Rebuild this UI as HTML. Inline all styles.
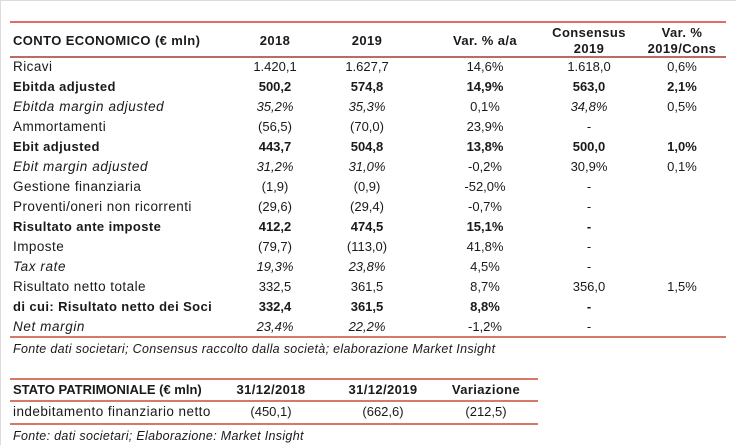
<!DOCTYPE html>
<html><head><meta charset="utf-8">
<style>
*{margin:0;padding:0;box-sizing:border-box}
html,body{width:736px;height:445px;background:#fff;overflow:hidden}
body{position:relative;font-family:"Liberation Sans",sans-serif;color:#1a1a1a;border-top:1px solid #dcdcdc;border-left:1px solid #dcdcdc}
.ln{position:absolute;height:2px}
.r{position:absolute;left:0;width:736px;height:20px;line-height:20px;font-size:13.5px;letter-spacing:0.45px}
.r span{position:absolute;top:0;white-space:nowrap}
.l{left:12px}
.l.i{letter-spacing:0.6px}
.c{width:100px;text-align:center;font-size:13px;letter-spacing:0}
.b{font-weight:bold;font-size:13px;letter-spacing:0.4px}
.i{font-style:italic}
.h{position:absolute;font-weight:bold;font-size:13px;letter-spacing:0.4px;white-space:nowrap;text-align:center;line-height:16px}
.f{position:absolute;left:12px;font-style:italic;font-size:12.5px;white-space:nowrap;letter-spacing:0.32px}
</style></head><body>
<div class="ln" style="left:9px;top:20px;width:716px;background:#e46a6a"></div>
<div class="h" style="left:12px;top:32px;text-align:left">CONTO ECONOMICO (€ mln)</div>
<div class="h" style="left:224px;top:32px;width:100px">2018</div>
<div class="h" style="left:316px;top:32px;width:100px">2019</div>
<div class="h" style="left:434px;top:32px;width:100px">Var. % a/a</div>
<div class="h" style="left:538px;top:24px;width:100px">Consensus<br>2019</div>
<div class="h" style="left:631px;top:24px;width:100px">Var. %<br>2019/Cons</div>
<div class="ln" style="left:9px;top:55px;width:716px;background:#bf6a60"></div>

<div class="r" style="top:56px"><span class="l">Ricavi</span><span class="c" style="left:224px">1.420,1</span><span class="c" style="left:316px">1.627,7</span><span class="c" style="left:434px">14,6%</span><span class="c" style="left:538px">1.618,0</span><span class="c" style="left:631px">0,6%</span></div>
<div class="r b" style="top:76px"><span class="l">Ebitda adjusted</span><span class="c" style="left:224px">500,2</span><span class="c" style="left:316px">574,8</span><span class="c" style="left:434px">14,9%</span><span class="c" style="left:538px">563,0</span><span class="c" style="left:631px">2,1%</span></div>
<div class="r" style="top:96px"><span class="l i">Ebitda margin adjusted</span><span class="c i" style="left:224px">35,2%</span><span class="c i" style="left:316px">35,3%</span><span class="c" style="left:434px">0,1%</span><span class="c i" style="left:538px">34,8%</span><span class="c" style="left:631px">0,5%</span></div>
<div class="r" style="top:116px"><span class="l">Ammortamenti</span><span class="c" style="left:224px">(56,5)</span><span class="c" style="left:316px">(70,0)</span><span class="c" style="left:434px">23,9%</span><span class="c" style="left:538px">-</span></div>
<div class="r b" style="top:136px"><span class="l">Ebit adjusted</span><span class="c" style="left:224px">443,7</span><span class="c" style="left:316px">504,8</span><span class="c" style="left:434px">13,8%</span><span class="c" style="left:538px">500,0</span><span class="c" style="left:631px">1,0%</span></div>
<div class="r" style="top:156px"><span class="l i">Ebit margin adjusted</span><span class="c i" style="left:224px">31,2%</span><span class="c i" style="left:316px">31,0%</span><span class="c" style="left:434px">-0,2%</span><span class="c" style="left:538px">30,9%</span><span class="c" style="left:631px">0,1%</span></div>
<div class="r" style="top:176px"><span class="l">Gestione finanziaria</span><span class="c" style="left:224px">(1,9)</span><span class="c" style="left:316px">(0,9)</span><span class="c" style="left:434px">-52,0%</span><span class="c" style="left:538px">-</span></div>
<div class="r" style="top:196px"><span class="l">Proventi/oneri non ricorrenti</span><span class="c" style="left:224px">(29,6)</span><span class="c" style="left:316px">(29,4)</span><span class="c" style="left:434px">-0,7%</span><span class="c" style="left:538px">-</span></div>
<div class="r b" style="top:216px"><span class="l">Risultato ante imposte</span><span class="c" style="left:224px">412,2</span><span class="c" style="left:316px">474,5</span><span class="c" style="left:434px">15,1%</span><span class="c" style="left:538px">-</span></div>
<div class="r" style="top:236px"><span class="l">Imposte</span><span class="c" style="left:224px">(79,7)</span><span class="c" style="left:316px">(113,0)</span><span class="c" style="left:434px">41,8%</span><span class="c" style="left:538px">-</span></div>
<div class="r" style="top:256px"><span class="l i">Tax rate</span><span class="c i" style="left:224px">19,3%</span><span class="c i" style="left:316px">23,8%</span><span class="c" style="left:434px">4,5%</span><span class="c" style="left:538px">-</span></div>
<div class="r" style="top:276px"><span class="l">Risultato netto totale</span><span class="c" style="left:224px">332,5</span><span class="c" style="left:316px">361,5</span><span class="c" style="left:434px">8,7%</span><span class="c" style="left:538px">356,0</span><span class="c" style="left:631px">1,5%</span></div>
<div class="r b" style="top:296px"><span class="l">di cui: Risultato netto dei Soci</span><span class="c" style="left:224px">332,4</span><span class="c" style="left:316px">361,5</span><span class="c" style="left:434px">8,8%</span><span class="c" style="left:538px">-</span></div>
<div class="r" style="top:316px"><span class="l i">Net margin</span><span class="c i" style="left:224px">23,4%</span><span class="c i" style="left:316px">22,2%</span><span class="c" style="left:434px">-1,2%</span><span class="c" style="left:538px">-</span></div>
<div class="ln" style="left:9px;top:335px;width:716px;background:#d57a66"></div>
<div class="f" style="top:341px">Fonte dati societari; Consensus raccolto dalla società; elaborazione Market Insight</div>

<div class="ln" style="left:9px;top:377px;width:528px;background:#d57a66"></div>
<div class="h" style="left:12px;top:381px;text-align:left;letter-spacing:0">STATO PATRIMONIALE (€ mln)</div>
<div class="h" style="left:220px;top:381px;width:100px">31/12/2018</div>
<div class="h" style="left:332px;top:381px;width:100px">31/12/2019</div>
<div class="h" style="left:435px;top:381px;width:100px">Variazione</div>
<div class="ln" style="left:9px;top:399px;width:528px;background:#d57a66"></div>
<div class="r" style="top:401px"><span class="l">indebitamento finanziario netto</span><span class="c" style="left:220px">(450,1)</span><span class="c" style="left:332px">(662,6)</span><span class="c" style="left:435px">(212,5)</span></div>
<div class="ln" style="left:9px;top:422px;width:528px;background:#d57a66"></div>
<div class="f" style="top:428px">Fonte: dati societari; Elaborazione: Market Insight</div>
</body></html>
